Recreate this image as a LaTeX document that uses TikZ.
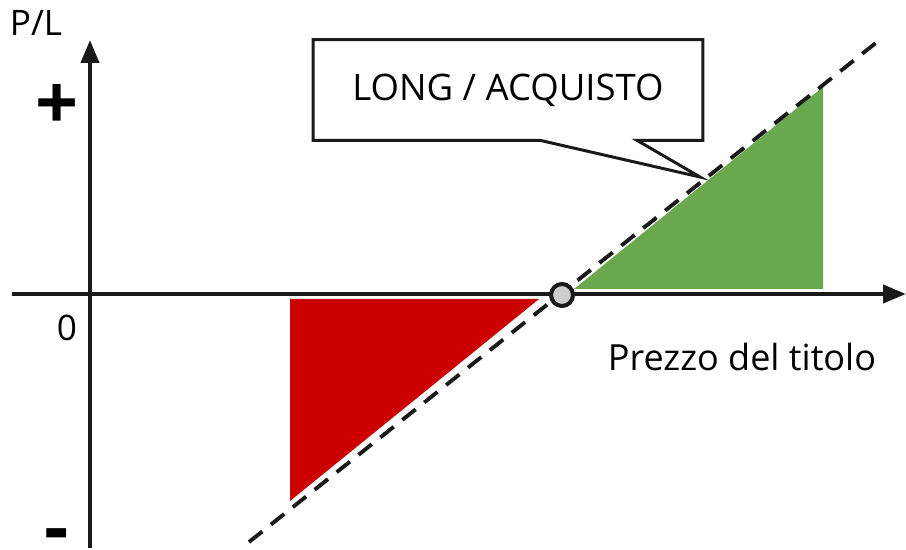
\documentclass[tikz,border=0pt]{standalone}
\usepackage{fontspec}
\setmainfont{Open Sans}
\usetikzlibrary{arrows.meta}
\definecolor{lossred}{HTML}{CC0000}
\definecolor{gaingreen}{HTML}{6AA84F}
\definecolor{pivotgray}{HTML}{CCCCCC}
\definecolor{inkblack}{HTML}{1A1A1A}
\tikzset{
  axis/.style={line width=2.3pt, draw=inkblack, -{Triangle[length=0.46cm,width=0.36cm]}},
  payoff/.style={line width=2.2pt, draw=inkblack, dash pattern=on 0.34cm off 0.22cm},
  lbl/.style={font=\fontsize{20}{24}\selectfont, inner sep=0pt},
  sign/.style={font=\fontsize{43}{48}\selectfont\bfseries, inner sep=0pt},
  bubble/.style={line width=1.7pt, draw=inkblack, fill=white},
}
\begin{document}
\begin{tikzpicture}[x=0.02cm, y=-0.02cm]
  \useasboundingbox (0,0) rectangle (906,550);

  \fill[lossred] (290,299) -- (539,299) -- (290,501) -- cycle;
  \fill[gaingreen] (574,289) -- (823,289) -- (823,87) -- cycle;

  \coordinate (ybot) at (90,548);
  \coordinate (ytop) at (90,40);
  \coordinate (xleft) at (12,294);
  \coordinate (xright) at (906,294);
  \draw[axis] (ybot) to (ytop);
  \draw[axis] (xleft) to (xright);

  \coordinate (pstart) at (249,542);
  \coordinate (pend) at (877,42);
  \draw[payoff] (pstart) to (pend);
  \node[circle, draw=inkblack, line width=2.3pt, fill=pivotgray, minimum size=0.44cm, inner sep=0pt] (be) at (562,295) {};

  \node[lbl] (pl) at (36,23) {P/L};
  \node[lbl] (zero) at (67,328) {0};
  \node[sign] (plus) at (57,107) {+};
  \node[sign] (minus) at (57,535) {\raisebox{-0.38cm}[0pt][0pt]{-}};
  \node[lbl, font=\fontsize{20.5}{24}\selectfont] (xlabel) at (742,357) {Prezzo del titolo};

  \node[minimum width=7.78cm, minimum height=2cm, inner sep=0pt] (callout) at (508,90) {};
  \coordinate (tip) at (700,177);
  \draw[bubble] (callout.north west) -- (callout.north east) -- (callout.south east)
    -- ([xshift=2.58cm]callout.south) -- (tip) -- ([xshift=0.64cm]callout.south)
    -- (callout.south west) -- cycle;
  \node[font=\fontsize{20.8}{25}\selectfont, inner sep=0pt] (long) at (callout.center) {LONG / ACQUISTO};
\end{tikzpicture}
\end{document}
